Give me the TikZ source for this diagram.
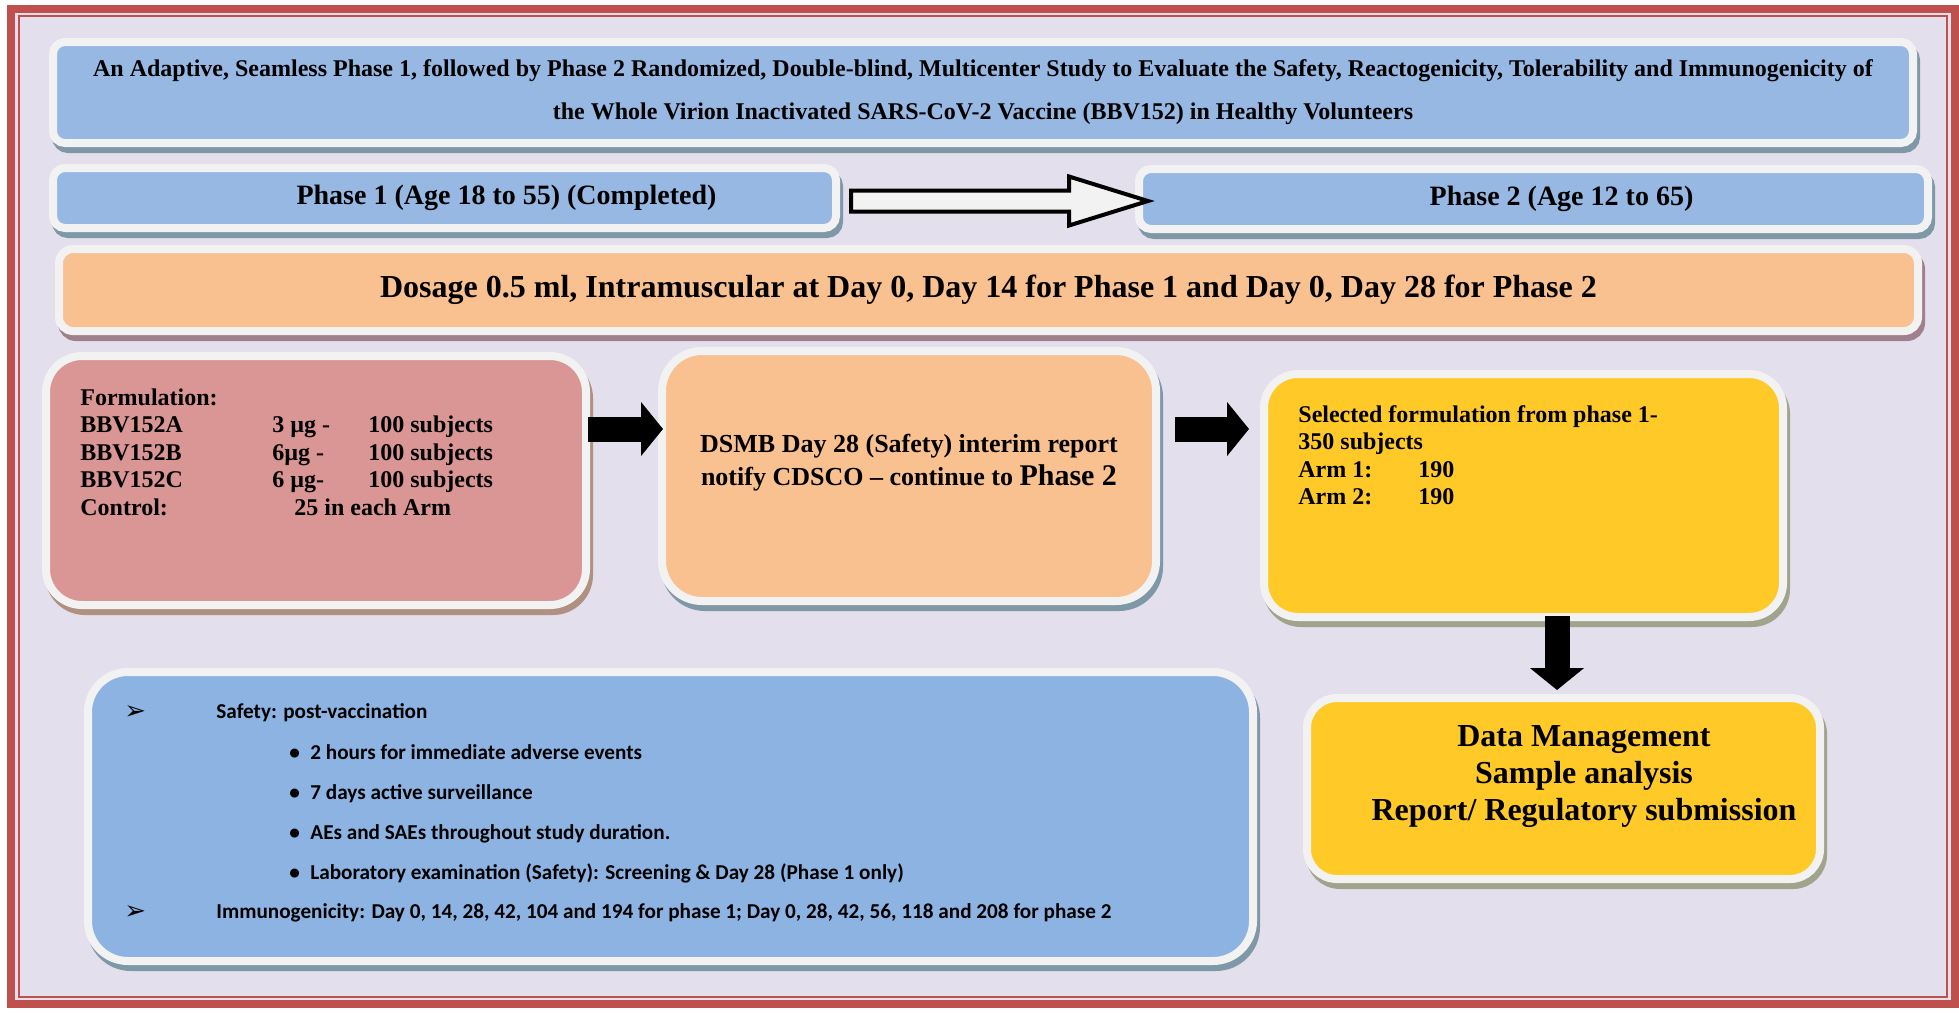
\documentclass[tikz,border=0pt]{standalone}
\usepackage{fontspec}
\setmainfont{Liberation Serif}
\newfontfamily\calibrifont{Carlito}
\newfontfamily\symbfont{DejaVu Sans}
\usetikzlibrary{positioning,calc,arrows.meta}

\definecolor{framered}{HTML}{C0504D}
\definecolor{lavender}{HTML}{E4DFEC}
\definecolor{boxwhite}{HTML}{F2F2F2}
\definecolor{headblue}{HTML}{96B8E2}
\definecolor{listblue}{HTML}{8DB3E2}
\definecolor{dosorange}{HTML}{F9C090}
\definecolor{formpink}{HTML}{D99694}
\definecolor{selyellow}{HTML}{FFCA28}
\definecolor{shblue}{HTML}{7F98A8}
\definecolor{shmauve}{HTML}{A0808C}
\definecolor{shbrown}{HTML}{B09080}
\definecolor{shgreen}{HTML}{A0A48C}

\begin{document}
\begin{tikzpicture}[x=0.5pt,y=-0.5pt,font=\bfseries,
  box/.style={draw=boxwhite, line width=4pt, inner sep=0pt},
  shadowed/.style={preaction={draw=#1, fill=#1, line width=4pt,
      transform canvas={shift={(1.5pt,-3pt)}}}},
  serif12/.style={font=\fontsize{12}{13.75}\selectfont\bfseries, inner sep=0pt},
  itemtxt/.style={font=\calibrifont\fontsize{10.6}{12}\selectfont\bfseries, inner sep=0pt},
  blockarrow/.style={line width=12.5pt, -{Triangle[width=26.5pt,length=11pt]}},
  hollowarrow/.style={draw=black, line width=2pt, fill=boxwhite, line join=miter}]

\useasboundingbox (0,0) rectangle (1959,1013);

% frame
\fill[lavender] (11,9) rectangle (1955,1004);
\draw[framered, line width=4pt] (11,9) rectangle (1955,1004);
\draw[framered, line width=1pt] (19,16) rectangle (1946.5,996.5);

% title and phases
\node[box, shadowed=shblue, fill=headblue, rounded corners=6pt,
  minimum width=930pt, minimum height=50.5pt, align=center,
  font=\fontsize{12}{21.5}\selectfont\bfseries] (title) at (983,92.5)
  {An Adaptive, Seamless Phase 1, followed by Phase 2 Randomized, Double-blind, Multicenter Study to Evaluate the Safety, Reactogenicity, Tolerability and Immunogenicity of\\
   the Whole Virion Inactivated SARS-CoV-2 Vaccine (BBV152) in Healthy Volunteers};

\node[box, shadowed=shblue, fill=headblue, rounded corners=6pt,
  minimum width=391.5pt, minimum height=30pt] (ph1) at (444.5,198) {};
\node[font=\fontsize{14}{16}\selectfont\bfseries] (ph1txt) at ([xshift=31pt]ph1.center) {Phase 1 (Age 18 to 55) (Completed)};

\node[box, shadowed=shblue, fill=headblue, rounded corners=6pt,
  minimum width=394.5pt, minimum height=30pt] (ph2) at (1533.5,199) {};
\node[font=\fontsize{14}{16}\selectfont\bfseries] (ph2txt) at ([xshift=14pt]ph2.center) {Phase 2 (Age 12 to 65)};

\draw[hollowarrow] ([xshift=5.5pt,yshift=-1.5pt]ph1.east) coordinate (h0)
  ++(0,-10.5) -- ++(218,0) -- ++(0,-14) -- ++(79,24.5) -- ++(-79,24.5)
  -- ++(0,-14) -- ++(-218,0) -- cycle;

\node[box, shadowed=shmauve, fill=dosorange, rounded corners=7pt,
  minimum width=929.5pt, minimum height=41pt,
  font=\fontsize{16}{18}\selectfont\bfseries] (dose) at (988.5,290)
  {Dosage 0.5 ml, Intramuscular at Day 0, Day 14 for Phase 1 and Day 0, Day 28 for Phase 2};

% flow boxes
\node[box, shadowed=shbrown, fill=formpink, rounded corners=18pt,
  minimum width=270pt, minimum height=124.5pt] (form) at (316,480.5) {};
\node[serif12, anchor=north west, align=left] (formtxt) at (80,388)
  {Formulation:\\
   \makebox[96pt][l]{BBV152A}\makebox[48pt][l]{3 µg -}100 subjects\\
   \makebox[96pt][l]{BBV152B}\makebox[48pt][l]{6µg -}100 subjects\\
   \makebox[96pt][l]{BBV152C}\makebox[48pt][l]{6 µg-}100 subjects\\
   \makebox[107pt][l]{Control:}25 in each Arm};

\node[box, shadowed=shblue, fill=dosorange, rounded corners=20pt,
  minimum width=247pt, minimum height=125pt] (dsmb) at (909,476) {};
\node[align=center, font=\fontsize{13}{16.5}\selectfont\bfseries] (dsmbtxt) at (909,463)
  {DSMB Day 28 (Safety) interim report\\
   notify CDSCO -- continue to {\fontsize{15}{16.5}\selectfont Phase 2}};

\node[box, shadowed=shgreen, fill=selyellow, rounded corners=17pt,
  minimum width=259.5pt, minimum height=121.5pt] (sel) at (1523.5,495.5) {};
\node[serif12, anchor=north west, align=left] (seltxt) at (1298,405)
  {Selected formulation from phase 1-\\
   350 subjects\\
   \makebox[60pt][l]{Arm 1:}190\\
   \makebox[60pt][l]{Arm 2:}190};

\node[box, shadowed=shgreen, fill=selyellow, rounded corners=15pt,
  minimum width=256.5pt, minimum height=90.5pt] (dm) at (1563.5,788.5) {};
\node[align=center, font=\fontsize{16}{18.5}\selectfont\bfseries] (dmtxt) at (1584,777)
  {Data Management\\Sample analysis\\Report/ Regulatory submission};

\node[box, shadowed=shblue, fill=listblue, rounded corners=20pt,
  minimum width=582.5pt, minimum height=144.5pt] (list) at (670.5,816.5) {};

% block arrows
\draw[blockarrow] ([xshift=-1pt,yshift=25.75pt]form.east) -- ([xshift=2.5pt,yshift=23.5pt]dsmb.west);
\draw[blockarrow] ([xshift=7.5pt,yshift=23.5pt]dsmb.east) -- ([xshift=-5.5pt,yshift=33.25pt]sel.west);
\coordinate (dstart) at ([xshift=16.75pt,yshift=2.5pt]sel.south);
\draw[blockarrow] (dstart) -- ([yshift=2pt]dstart |- dm.north);

% list text
\node[itemtxt, anchor=base west] (mark1) at (124,719) {\symbfont\fontsize{13}{13}\selectfont ➢};
\node[itemtxt, anchor=base west] (safety) at (216,718) {Safety: post-vaccination};
\foreach \y/\txt [count=\i] in {759/{2 hours for immediate adverse events},
    799/{7 days active surveillance},
    839/{AEs and SAEs throughout study duration.},
    879/{Laboratory examination (Safety): Screening \& Day 28 (Phase 1 only)}}{
  \node[itemtxt, anchor=base west] (bul\i) at (289,\y) {\textbullet};
  \node[itemtxt, anchor=base west] (item\i) at (310,\y) {\txt};
}
\node[itemtxt, anchor=base west] (mark2) at (124,919) {\symbfont\fontsize{13}{13}\selectfont ➢};
\node[itemtxt, anchor=base west] (immuno) at (216,918)
  {Immunogenicity: Day 0, 14, 28, 42, 104 and 194 for phase 1; Day 0, 28, 42, 56, 118 and 208 for phase 2};

\end{tikzpicture}
\end{document}
